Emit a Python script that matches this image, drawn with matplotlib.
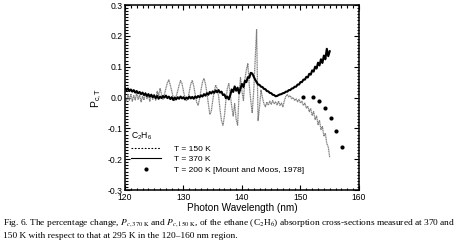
import numpy as np
import matplotlib
matplotlib.use("Agg")
from matplotlib import pyplot as plt
from matplotlib.ticker import MultipleLocator, FormatStrFormatter
from matplotlib.lines import Line2D

plt.rcParams["font.family"] = ["Liberation Sans", "DejaVu Sans"]
plt.rcParams["axes.unicode_minus"] = False
plt.rcParams["mathtext.fontset"] = "custom"
plt.rcParams["mathtext.rm"] = "Liberation Sans"
plt.rcParams["mathtext.it"] = "Liberation Sans"

# wavelength grid (nm), 0.25 nm step
wavelength = np.linspace(120, 155, 141)

# P_c,T at 370 K (heavy black trace), one row per nm
p_370 = [
    0.030, 0.024, 0.029, 0.021,   # 120
    0.026, 0.019, 0.024, 0.016,   # 121
    0.021, 0.014, 0.018, 0.011,   # 122
    0.016, 0.008, 0.013, 0.005,   # 123
    0.011, 0.003, 0.009, 0.001,   # 124
    0.006, -0.002, 0.005, -0.004, # 125
    0.003, -0.002, 0.005, 0.000,  # 126
    0.006, -0.002, 0.003, -0.005, # 127
    0.001, -0.008, 0.000, -0.006, # 128
    0.001, -0.004, 0.003, -0.003, # 129
    0.001, -0.006, 0.000, -0.004, # 130
    0.003, -0.003, 0.002, -0.004, # 131
    0.003, -0.001, 0.005, 0.001,  # 132
    0.007, 0.003, 0.011, 0.006,   # 133
    0.014, 0.009, 0.018, 0.013,   # 134
    0.020, 0.015, 0.023, 0.017,   # 135
    0.024, 0.016, 0.019, 0.008,   # 136
    0.010, -0.002, 0.003, -0.006, # 137
    0.008, 0.026, 0.018, 0.036,   # 138
    0.022, 0.032, 0.014, 0.030,   # 139
    0.044, 0.034, 0.054, 0.050,   # 140
    0.066, 0.064, 0.080, 0.078,   # 141
    0.068, 0.058, 0.050, 0.042,   # 142
    0.041, 0.035, 0.034, 0.028,   # 143
    0.027, 0.021, 0.020, 0.015,   # 144
    0.014, 0.009, 0.008, 0.004,   # 145
    0.005, 0.008, 0.010, 0.011,   # 146
    0.014, 0.015, 0.019, 0.019,   # 147
    0.024, 0.024, 0.029, 0.030,   # 148
    0.035, 0.035, 0.042, 0.042,   # 149
    0.050, 0.050, 0.058, 0.058,   # 150
    0.067, 0.065, 0.077, 0.074,   # 151
    0.088, 0.084, 0.100, 0.094,   # 152
    0.113, 0.104, 0.124, 0.112,   # 153
    0.136, 0.124, 0.158, 0.134,   # 154
    0.150,                        # 155
]

# P_c,T at 150 K (grey dotted trace)
p_150 = [
    0.000, -0.015, 0.010, -0.010,   # 120
    0.012, -0.012, 0.006, -0.008,   # 121
    0.014, -0.006, 0.008, -0.014,   # 122
    0.004, -0.008, 0.016, -0.004,   # 123
    0.008, -0.012, 0.010, -0.006,   # 124
    0.012, -0.010, 0.020, 0.006,    # 125
    0.030, 0.010, -0.006, 0.010,    # 126
    0.030, 0.048, 0.057, 0.040,     # 127
    0.020, 0.000, -0.010, 0.004,    # 128
    0.020, 0.040, 0.055, 0.045,     # 129
    0.020, 0.000, -0.010, -0.006,   # 130
    0.020, 0.044, 0.055, 0.038,     # 131
    0.010, -0.015, -0.025, -0.005,  # 132
    0.025, 0.050, 0.062, 0.045,     # 133
    0.015, -0.020, -0.055, -0.045,  # 134
    -0.010, 0.020, 0.040, 0.030,    # 135
    0.005, -0.040, -0.075, -0.090,  # 136
    -0.060, -0.010, 0.030, 0.045,   # 137
    0.010, -0.030, -0.060, -0.020,  # 138
    -0.070, -0.090, 0.010, 0.065,   # 139
    0.020, -0.010, 0.060, 0.090,    # 140
    0.110, 0.040, -0.010, -0.050,   # 141
    0.020, 0.120, 0.220, -0.075,    # 142
    -0.030, 0.024, 0.000, -0.020,   # 143
    -0.030, -0.015, -0.025, -0.012, # 144
    -0.022, -0.010, -0.020, -0.014, # 145
    -0.024, -0.012, -0.026, -0.018, # 146
    -0.030, -0.010, 0.004, 0.010,   # 147
    0.002, 0.006, -0.004, 0.000,    # 148
    -0.010, -0.004, -0.014, -0.006, # 149
    -0.018, -0.012, -0.026, -0.018, # 150
    -0.034, -0.028, -0.046, -0.036, # 151
    -0.058, -0.046, -0.072, -0.060, # 152
    -0.088, -0.074, -0.104, -0.094, # 153
    -0.126, -0.116, -0.150, -0.160, # 154
    -0.195,                         # 155
]

# Mount and Moos (1978), 200 K
mm_wavelength = [150.4, 152.2, 153.2, 154.2, 155.2, 156.1, 157.1]
mm_p200 = [0.002, 0.002, -0.011, -0.033, -0.066, -0.110, -0.160]

fig = plt.figure(figsize=(4.61, 2.49), dpi=100)
ax = fig.add_axes([0.2711, 0.2369, 0.5076, 0.7430])

ax.plot(wavelength, p_150, color="0.5", lw=0.9, ls=(0, (1.0, 0.4)))
ax.plot(wavelength, p_370, color="black", lw=1.5)
ax.plot(mm_wavelength, mm_p200, "o", color="black", ms=3, mec="none")

ax.set_xlim(120, 160)
ax.set_ylim(-0.3, 0.3)
ax.set_xticks([120, 130, 140, 150, 160])
ax.xaxis.set_minor_locator(MultipleLocator(1))
ax.yaxis.set_major_locator(MultipleLocator(0.1))
ax.yaxis.set_minor_locator(MultipleLocator(0.01))
ax.yaxis.set_major_formatter(FormatStrFormatter("%.1f"))
ax.tick_params(which="both", direction="in", top=True, right=True,
               labelsize=6.2, width=0.8)
ax.tick_params(axis="x", pad=2.2)
ax.tick_params(axis="y", pad=1.5)
ax.tick_params(which="major", length=3.5)
ax.tick_params(which="minor", length=1.8)
for s in ax.spines.values():
    s.set_linewidth(1.1)

ax.set_xlabel("Photon Wavelength (nm)", fontsize=7.2, labelpad=1)
ax.set_ylabel("P$_{c,T}$", fontsize=7.5, labelpad=3)

handles = [
    Line2D([], [], color="black", lw=0.8, ls=(0, (1.5, 1.5))),
    Line2D([], [], color="black", lw=0.8),
    Line2D([], [], color="black", marker="o", ls="none", ms=3, mec="none"),
]
labels = ["T = 150 K", "T = 370 K", "T = 200 K [Mount and Moos, 1978]"]
leg = ax.legend(handles, labels, title="C$_2$H$_6$", loc="lower left",
                bbox_to_anchor=(0.0, 0.055), frameon=False, fontsize=6,
                title_fontsize=6.2, handlelength=3.6, handletextpad=1.6,
                labelspacing=0.35, alignment="left", borderaxespad=0.3)

caption = ("Fig. 6. The percentage change, $P_{c,370\\ \\mathrm{K}}$ and "
           "$P_{c,150\\ \\mathrm{K}}$, of the ethane (C$_2$H$_6$) absorption "
           "cross-sections measured at 370 and")
fig.text(0.007, 0.095, caption, fontsize=6.75, family="Liberation Serif",
         math_fontfamily="stix")
fig.text(0.007, 0.045, "150 K with respect to that at 295 K in the 120\u2013160 nm region.",
         fontsize=6.75, family="Liberation Serif")

fig.savefig("out.png", dpi=100)
